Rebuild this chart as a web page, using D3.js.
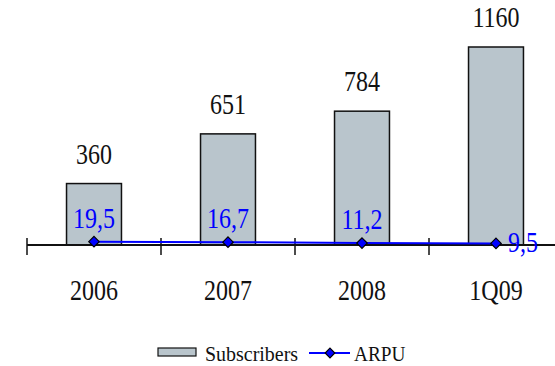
<!DOCTYPE html>
<html>
<head>
<meta charset="utf-8">
<script src="https://cdn.jsdelivr.net/npm/d3@7"></script>
<style>
  html, body { margin: 0; padding: 0; background: #ffffff; }
  svg { display: block; }
</style>
</head>
<body>
<svg id="chart" width="555" height="366"></svg>
<script>
// Subscribers (bars) and ARPU (line) per period
const categories = ["2006", "2007", "2008", "1Q09"];
const subscribers = [360, 651, 784, 1160];
const arpu = [19.5, 16.7, 11.2, 9.5];
const arpuLabels = ["19,5", "16,7", "11,2", "9,5"];
const legendLabels = ["Subscribers", "ARPU"];

const barFill = "#b9c5cc";
const lineColor = "#0000ff";
const serif = "'Times New Roman', 'Liberation Serif', Times, serif";

const svg = d3.select("#chart");

const baseY = 245;
const pad = 0.59;
const x = d3.scaleBand()
  .domain(categories)
  .range([27, 563])
  .paddingInner(pad)
  .paddingOuter(pad / 2);

// Both series share one value axis
const y = d3.scaleLinear().domain([0, 1160]).range([baseY, 47]);

const cx = c => x(c) + x.bandwidth() / 2;
const sx = 0.8; // narrow serif look

function label(g, tx, ty, str, size, color, scale) {
  return g.append("text")
    .attr("transform", `translate(${tx},${ty}) scale(${scale},1)`)
    .attr("font-family", serif)
    .attr("font-size", size)
    .attr("fill", color)
    .text(str);
}

// Bars
svg.append("g").selectAll("rect")
  .data(subscribers)
  .join("rect")
  .attr("x", (d, i) => x(categories[i]))
  .attr("y", d => y(d))
  .attr("width", x.bandwidth())
  .attr("height", d => y(0) - y(d))
  .attr("fill", barFill)
  .attr("stroke", "#111")
  .attr("stroke-width", 1.5);

// Bar value labels
const barLabels = svg.append("g");
subscribers.forEach((d, i) => {
  label(barLabels, cx(categories[i]), y(d) - 20, String(d), 30, "#111", sx)
    .attr("text-anchor", "middle");
});

// Category axis: line with boundary ticks
const axisG = svg.append("g");
axisG.append("line")
  .attr("x1", 27).attr("x2", 555)
  .attr("y1", baseY).attr("y2", baseY)
  .attr("stroke", "#111").attr("stroke-width", 2);
const step = x.step();
const bounds = categories.map(c => x(c) - step * pad / 2);
axisG.selectAll("line.tick")
  .data(bounds)
  .join("line")
  .attr("class", "tick")
  .attr("x1", d => d).attr("x2", d => d)
  .attr("y1", baseY - 7).attr("y2", baseY + 10)
  .attr("stroke", "#111").attr("stroke-width", 1.5);
categories.forEach(c => {
  label(axisG, cx(c), 300, c, 30, "#111", sx).attr("text-anchor", "middle");
});

// ARPU line
const line = d3.line()
  .x((d, i) => cx(categories[i]))
  .y(d => y(d));
svg.append("path")
  .datum(arpu)
  .attr("d", line)
  .attr("fill", "none")
  .attr("stroke", lineColor)
  .attr("stroke-width", 2);

const diamond = d3.symbol().type(d3.symbolDiamond2).size(70);
svg.append("g").selectAll("path")
  .data(arpu)
  .join("path")
  .attr("d", diamond)
  .attr("transform", (d, i) => `translate(${cx(categories[i])},${y(d)})`)
  .attr("fill", lineColor)
  .attr("stroke", "#000")
  .attr("stroke-width", 1.2);

// ARPU value labels: above the point, last one to the right
const arpuG = svg.append("g");
arpu.forEach((d, i) => {
  const last = i === arpu.length - 1;
  const t = label(arpuG,
    last ? cx(categories[i]) + 12 : cx(categories[i]),
    last ? y(d) + 9 : y(d) - 14,
    arpuLabels[i], 30, lineColor, sx);
  t.attr("text-anchor", last ? "start" : "middle");
});

// Legend
const leg = svg.append("g");
leg.append("rect")
  .attr("x", 158).attr("y", 348)
  .attr("width", 38).attr("height", 8)
  .attr("fill", barFill)
  .attr("stroke", "#111").attr("stroke-width", 1.2);
label(leg, 205, 361, legendLabels[0], 21, "#111", 0.95);
leg.append("line")
  .attr("x1", 309).attr("x2", 350)
  .attr("y1", 353).attr("y2", 353)
  .attr("stroke", lineColor).attr("stroke-width", 2);
leg.append("path")
  .attr("d", d3.symbol().type(d3.symbolDiamond2).size(60))
  .attr("transform", "translate(330,353)")
  .attr("fill", lineColor)
  .attr("stroke", "#000")
  .attr("stroke-width", 1.2);
label(leg, 354, 361, legendLabels[1], 21, "#111", 0.92);
</script>
</body>
</html>
